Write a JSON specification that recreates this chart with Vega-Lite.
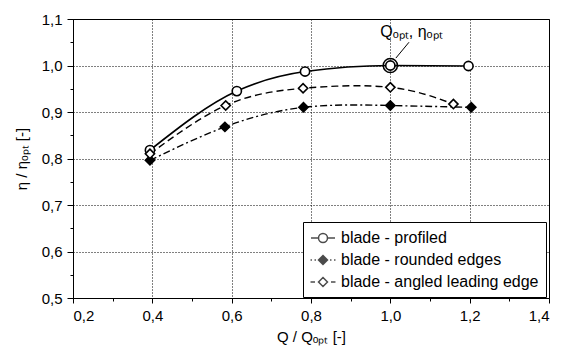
{
  "$schema": "https://vega.github.io/schema/vega-lite/v6.json",
  "width": 476,
  "height": 279,
  "autosize": "none",
  "padding": {"left": 73, "top": 19, "right": 17, "bottom": 53},
  "datasets": {
    "curves": [
      {"series": "blade - profiled", "q": 0.394, "eta": 0.818},
      {"series": "blade - profiled", "q": 0.613, "eta": 0.945},
      {"series": "blade - profiled", "q": 0.785, "eta": 0.987},
      {"series": "blade - profiled", "q": 1.0, "eta": 1.0},
      {"series": "blade - profiled", "q": 1.197, "eta": 0.999},
      {"series": "blade - rounded edges", "q": 0.394, "eta": 0.796},
      {"series": "blade - rounded edges", "q": 0.583, "eta": 0.868},
      {"series": "blade - rounded edges", "q": 0.781, "eta": 0.910},
      {"series": "blade - rounded edges", "q": 1.0, "eta": 0.914},
      {"series": "blade - rounded edges", "q": 1.204, "eta": 0.910},
      {"series": "blade - angled leading edge", "q": 0.394, "eta": 0.810},
      {"series": "blade - angled leading edge", "q": 0.585, "eta": 0.914},
      {"series": "blade - angled leading edge", "q": 0.780, "eta": 0.951},
      {"series": "blade - angled leading edge", "q": 1.0, "eta": 0.953},
      {"series": "blade - angled leading edge", "q": 1.159, "eta": 0.917}
    ],
    "note": [
      {"q": 1.0, "eta": 1.0, "q1": 1.014, "eta1": 1.016, "q2": 1.047, "eta2": 1.05, "label": "Qₒₚₜ, ηₒₚₜ"}
    ]
  },
  "layer": [
    {
      "data": {"name": "curves"},
      "transform": [{"filter": "datum.series == 'blade - profiled'"}],
      "mark": {"type": "line", "interpolate": "monotone", "color": "black", "strokeWidth": 1.6},
      "encoding": {
        "x": {
          "field": "q", "type": "quantitative",
          "scale": {"domain": [0.2, 1.4], "nice": false, "zero": false},
          "axis": {
            "values": [0.2, 0.4, 0.6, 0.8, 1.0, 1.2, 1.4],
            "labelExpr": "replace(format(datum.value, '.1f'), '.', ',')",
            "grid": true, "gridColor": "black", "gridDash": [1, 2], "gridWidth": 1, "gridOpacity": 1,
            "domainColor": "black", "tickColor": "black", "tickSize": 5,
            "labelFontSize": 15, "labelColor": "black", "labelPadding": 5,
            "title": "Q / Qₒₚₜ [-]", "titleFontSize": 15, "titleFontWeight": "normal", "titleColor": "black", "titlePadding": 6
          }
        },
        "y": {
          "field": "eta", "type": "quantitative",
          "scale": {"domain": [0.5, 1.1], "nice": false, "zero": false},
          "axis": {
            "values": [0.5, 0.6, 0.7, 0.8, 0.9, 1.0, 1.1],
            "labelExpr": "replace(format(datum.value, '.1f'), '.', ',')",
            "grid": true, "gridColor": "black", "gridDash": [1, 2], "gridWidth": 1, "gridOpacity": 1,
            "domainColor": "black", "tickColor": "black", "tickSize": 6,
            "labelFontSize": 15, "labelColor": "black", "labelPadding": 5,
            "title": "η / ηₒₚₜ [-]", "titleFontSize": 15, "titleFontWeight": "normal", "titleColor": "black",
            "titleX": -52, "titleBaseline": "middle"
          }
        }
      }
    },
    {
      "data": {"name": "curves"},
      "transform": [{"filter": "datum.series == 'blade - rounded edges'"}],
      "mark": {"type": "line", "interpolate": "natural", "color": "black", "strokeWidth": 1.4, "strokeDash": [7, 3, 2, 3]},
      "encoding": {
        "x": {"field": "q", "type": "quantitative", "axis": null},
        "y": {"field": "eta", "type": "quantitative", "axis": null}
      }
    },
    {
      "data": {"name": "curves"},
      "transform": [{"filter": "datum.series == 'blade - angled leading edge'"}],
      "mark": {"type": "line", "interpolate": "natural", "color": "black", "strokeWidth": 1.4, "strokeDash": [7, 4]},
      "encoding": {
        "x": {"field": "q", "type": "quantitative", "axis": null},
        "y": {"field": "eta", "type": "quantitative", "axis": null}
      }
    },
    {
      "data": {"name": "curves"},
      "mark": {"type": "point", "filled": true, "stroke": "black", "strokeWidth": 1.6, "size": 85, "opacity": 1},
      "encoding": {
        "x": {
          "field": "q", "type": "quantitative",
          "axis": {"orient": "bottom", "values": [0.3, 0.5, 0.7, 0.9, 1.1, 1.3], "labels": false, "grid": false, "domain": false, "tickColor": "black", "tickSize": 3, "title": null}
        },
        "y": {
          "field": "eta", "type": "quantitative",
          "axis": {"orient": "left", "values": [0.55, 0.65, 0.75, 0.85, 0.95, 1.05], "labels": false, "grid": false, "domain": false, "tickColor": "black", "tickSize": 3, "title": null}
        },
        "shape": {
          "field": "series", "type": "nominal",
          "scale": {"domain": ["blade - profiled", "blade - rounded edges", "blade - angled leading edge"], "range": ["circle", "diamond", "diamond"]},
          "legend": null
        },
        "fill": {
          "field": "series", "type": "nominal",
          "scale": {"domain": ["blade - profiled", "blade - rounded edges", "blade - angled leading edge"], "range": ["white", "black", "white"]},
          "legend": null
        }
      }
    },
    {
      "data": {"name": "curves"},
      "mark": {"type": "point", "filled": false, "stroke": "black", "strokeWidth": 1.5, "size": 0},
      "encoding": {
        "x": {"field": "q", "type": "quantitative", "axis": null},
        "y": {"field": "eta", "type": "quantitative", "axis": null},
        "shape": {
          "field": "series", "type": "nominal",
          "scale": {
            "domain": ["blade - profiled", "blade - rounded edges", "blade - angled leading edge"],
            "range": [
              "M-1.5,0H-0.56M0.56,0H1.5M-0.56,0A0.56,0.56,0,1,1,0.56,0A0.56,0.56,0,1,1,-0.56,0Z",
              "M-1.56,0H-1.38M-1.06,0H-0.88M0.88,0H1.06M1.38,0H1.56M0,-0.56L0.56,0L0,0.56L-0.56,0ZM0,-0.45L0.45,0L0,0.45L-0.45,0ZM0,-0.34L0.34,0L0,0.34L-0.34,0ZM0,-0.23L0.23,0L0,0.23L-0.23,0ZM0,-0.12L0.12,0L0,0.12L-0.12,0ZM0,-0.03L0.03,0L0,0.03L-0.03,0Z",
              "M-1.56,0H-1.0M1.0,0H1.56M0,-0.56L0.56,0L0,0.56L-0.56,0Z"
            ]
          },
          "legend": {
            "title": null, "orient": "none", "legendX": 230, "legendY": 203,
            "strokeColor": "black", "fillColor": "white", "padding": 7, "cornerRadius": 0,
            "labelFontSize": 16, "labelColor": "black", "labelOffset": 9, "labelLimit": 400,
            "rowPadding": 5, "symbolOffset": 4,
            "symbolSize": 256, "symbolStrokeWidth": 1.5, "symbolStrokeColor": "black", "symbolFillColor": "white"
          }
        }
      }
    },
    {
      "data": {"name": "note"},
      "mark": {"type": "point", "shape": "circle", "size": 200, "stroke": "black", "strokeWidth": 1.5, "filled": false, "opacity": 1},
      "encoding": {
        "x": {"field": "q", "type": "quantitative", "axis": null},
        "y": {"field": "eta", "type": "quantitative", "axis": null}
      }
    },
    {
      "data": {"name": "note"},
      "mark": {"type": "rule", "color": "black", "strokeWidth": 1},
      "encoding": {
        "x": {"field": "q1", "type": "quantitative", "axis": null},
        "y": {"field": "eta1", "type": "quantitative", "axis": null},
        "x2": {"field": "q2"},
        "y2": {"field": "eta2"}
      }
    },
    {
      "data": {"name": "note"},
      "mark": {"type": "text", "fontSize": 16, "color": "black", "align": "left", "baseline": "alphabetic", "dx": -10, "dy": -29},
      "encoding": {
        "x": {"field": "q", "type": "quantitative", "axis": null},
        "y": {"field": "eta", "type": "quantitative", "axis": null},
        "text": {"field": "label"}
      }
    }
  ],
  "resolve": {
    "axis": {"x": "independent", "y": "independent"},
    "scale": {"shape": "independent"}
  },
  "config": {
    "font": "Liberation Sans",
    "view": {"stroke": "black", "strokeWidth": 1}
  }
}
